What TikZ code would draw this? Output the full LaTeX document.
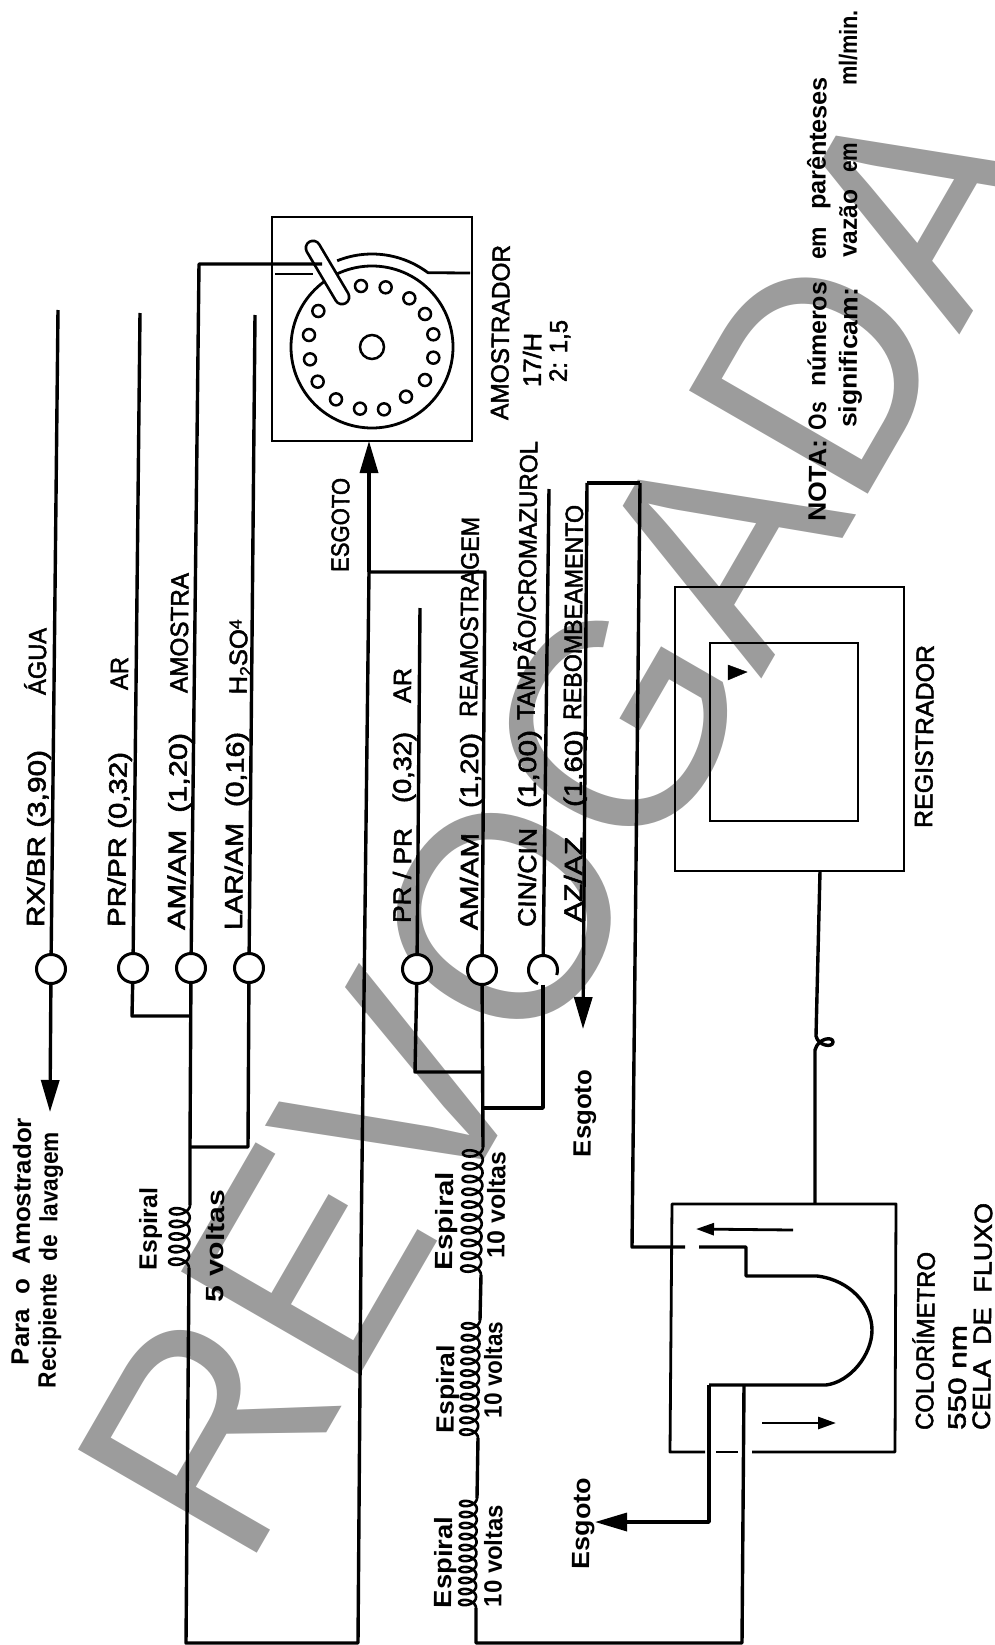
\documentclass[tikz,border=0pt]{standalone}
\usepackage{graphicx}
\usepackage{fontspec}
\setmainfont{Liberation Sans}[RawFeature={embolden=2}]
\newfontfamily\wmfont{Liberation Sans}
\newfontfamily\bfont{Liberation Sans Bold}
\usetikzlibrary{arrows.meta}
\definecolor{wm}{RGB}{156,156,156}
\newsavebox\fitbox
\newcommand{\fitw}[2]{\sbox\fitbox{#2}\pgfmathsetmacro\fitr{#1/\wd\fitbox}\scalebox{\fitr}[1]{\usebox\fitbox}}
% name, centre x, y top, y bottom, text
\newcommand{\lbl}[5]{\pgfmathsetmacro\lx{#2+9}\pgfmathsetmacro\lyc{(#3+#4)/2}\pgfmathsetmacro\lw{#4-#3}\node[lab] (#1) at (\lx,\lyc) {\fitw{\lw}{#5}};}
\newcommand{\blbl}[5]{\pgfmathsetmacro\lx{#2+9}\pgfmathsetmacro\lyc{(#3+#4)/2}\pgfmathsetmacro\lw{#4-#3}\node[lab] (#1) at (\lx,\lyc) {\fitw{\lw}{\bfont #5}};}
% x0, x1 at ends, y0, y1, amplitude, turns
\newcommand{\coil}[6]{\draw[pipe,line width=2.6] plot[smooth,samples=\the\numexpr 20*#6\relax,domain=0:360*#6,variable=\t] ({#1+(#2-#1)*(\t/(360*#6))-#5*(1-cos(\t))/2},{#3+(#4-#3)*(\t/(360*#6))+0.3*#5*sin(\t)});}
\tikzset{
  pipe/.style={line width=3.4,black,line join=round},
  thinp/.style={line width=2.8,black,line join=round},
  pump/.style={circle,draw=black,fill=white,line width=3,minimum size=29,inner sep=0},
  boxn/.style={rectangle,draw=black,line width=2.8,inner sep=0},
  lab/.style={rotate=89.4,anchor=base,inner sep=0,font=\fontsize{25}{25}\selectfont},
  hole/.style={circle,draw=black,line width=2.5,inner sep=0,minimum size=12},
  bigtip/.style={-{Triangle[length=32,width=18]}},
  midtip/.style={-{Triangle[length=18,width=12]}},
}
\begin{document}
\begin{tikzpicture}[x=1pt,y=-1pt]
\useasboundingbox (0,0) rectangle (995,1645);
\clip (0,0) rectangle (995,1645);
% watermark
\node[rotate=60,anchor=base west,inner sep=0,text=wm,font=\fontsize{300}{300}\selectfont] (wmk) at (245,1574) {\fitw{1620}{\wmfont REVOGADA}};
% coordinates
\coordinate (rxtop) at (58,310);
\coordinate (rxtip) at (50,1112);
\coordinate (prtop) at (140,313);
\coordinate (prb) at (132,1016);
\coordinate (prj) at (191,1016);
\coordinate (amcorner) at (199,264);
\coordinate (amarm) at (322,264);
\coordinate (amj) at (190,1147);
\coordinate (c1a) at (190,1205);
\coordinate (c1b) at (189,1268);
\coordinate (bl) at (186,1643);
\coordinate (br) at (358,1643);
\coordinate (r1) at (361,1250);
\coordinate (esgj) at (369,572);
\coordinate (esgtip) at (369,441);
\coordinate (lartop) at (255,315);
\coordinate (larb) at (248,1147);
\coordinate (pr2top) at (420,608);
\coordinate (pr2b) at (415,1072);
\coordinate (pr2j) at (483,1072);
\coordinate (am2top) at (485,572);
\coordinate (c2a) at (483,1147);
\coordinate (c2b) at (481,1275);
\coordinate (c3a) at (480,1320);
\coordinate (c3b) at (478,1438);
\coordinate (c4a) at (477,1498);
\coordinate (c4b) at (476,1608);
\coordinate (b2l) at (476,1643);
\coordinate (b2r) at (742,1643);
\coordinate (tbot) at (744,1385);
\coordinate (cintop) at (549,489);
\coordinate (cinb) at (543,1108);
\coordinate (cinj) at (483,1108);
\coordinate (aztl) at (587,483);
\coordinate (aztr) at (640,483);
\coordinate (azb) at (632,1247);
\coordinate (gapa) at (685,1247);
\coordinate (gapb) at (699,1247);
\coordinate (t1) at (746,1247);
\coordinate (t2) at (746,1276);
\coordinate (t3) at (817,1276);
\coordinate (t4) at (872,1330);
\coordinate (t5) at (826,1385);
\coordinate (t6) at (709,1385);
\coordinate (t7) at (709,1522);
\coordinate (esgtip2) at (595,1522);
\coordinate (aztip) at (583,1029);
% sampler
\node[boxn,minimum width=200,minimum height=224] (amo) at (372,329) {};
\draw[thinp] (372,347) circle [radius=81];
\node[circle,draw=black,line width=2.5,inner sep=0,minimum size=24] (hub) at (372,347) {};
\foreach \i/\hx/\hy in {a/333/258,b/407/262,c/478/295,d/525/342,e/550/403,f/550/473,g/525/540,h/468/590,i/402/628,j/330/626,k/258/598,l/203/545,m/180/478,n/177/405,o/205/333}{
  \node[hole] (h\i) at ({250+\hx/3},{200+\hy/3}) {};
}
\draw[thinp] plot[smooth,samples=30,domain=112:53,variable=\t] ({372+93*cos(\t)},{347-93*sin(\t)}) -- (470,273);
\draw[thinp] (275,274) -- (313,274);
\draw[line width=17,black,line cap=round] (313,248) -- (342,297);
\draw[line width=11.5,white,line cap=round] (313,248) -- (342,297);
% pumps
\node[pump] (p1) at (51,969) {};
\node[pump] (p2) at (133,968) {};
\node[pump] (p3) at (191,968) {};
\node[pump] (p4) at (249,968) {};
\node[pump] (p5) at (417,969) {};
\node[pump] (p6) at (482,970) {};
\node[circle,inner sep=0,minimum size=29] (p7) at (543,970) {};
\draw[line width=3] plot[smooth,samples=40,domain=-20:250,variable=\t] ({543+14.5*cos(\t)},{970-14.5*sin(\t)});
% pipes
\draw[pipe] (rxtop) -- (p1);
\draw[pipe,bigtip] (p1) -- (rxtip);
\draw[pipe] (prtop) -- (p2);
\draw[pipe] (p2) -- (prb) -- (prj);
\draw[pipe] (amarm) -- (amcorner) -- (p3);
\draw[pipe] (p3) -- (amj) -- (c1a);
\coil{190}{189}{1205}{1268}{20}{5}
\draw[pipe] (c1b) -- (bl) -- (br) -- (r1) -- (esgj);
\draw[pipe,bigtip] (esgj) -- (esgtip);
\draw[pipe] (lartop) -- (p4);
\draw[pipe] (p4) -- (larb) -- (amj);
\draw[pipe] (pr2top) -- (p5);
\draw[pipe] (p5) -- (pr2b) -- (pr2j);
\draw[pipe] (esgj) -- (am2top) -- (p6);
\draw[pipe] (p6) -- (c2a);
\coil{483}{481}{1147}{1275}{20}{10}
\draw[pipe] (c2b) -- (c3a);
\coil{480}{478}{1320}{1438}{18}{10}
\draw[pipe] (c3b) -- (c4a);
\coil{477}{476}{1498}{1608}{17}{10}
\draw[pipe] (c4b) -- (b2l) -- (b2r) -- (tbot);
\draw[pipe] (cintop) -- (p7);
\draw[pipe] (p7) -- (cinb) -- (cinj);
\draw[pipe] (aztr) -- (aztl);
\draw[pipe,bigtip] (aztl) -- (aztip);
\draw[pipe] (aztr) -- (azb) -- (gapa);
\draw[pipe] (gapb) -- (t1) -- (t2) -- (t3) .. controls (850,1280) and (872,1305) .. (t4) .. controls (872,1355) and (850,1382) .. (t5) -- (t6);
\draw[pipe,bigtip] (t6) -- (t7) -- (esgtip2);
% colorimeter box
\coordinate (ca) at (705,1452);\coordinate (cb) at (716,1452);\coordinate (cc) at (738,1452);\coordinate (cd) at (752,1452);
\draw[thinp] (ca) -- (670,1452) -- (672,1204) -- (896,1204) -- (895,1452) -- (cd);
\draw[thinp] (cb) -- (cc);
\coordinate (ar1a) at (793,1230);\coordinate (ar1b) at (696,1229);
\coordinate (ar2a) at (762,1423);\coordinate (ar2b) at (836,1423);
\draw[pipe,midtip,line width=2.8] (ar1a) -- (ar1b);
\draw[pipe,midtip,line width=2.8] (ar2a) -- (ar2b);
% recorder
\node[boxn,minimum width=229,minimum height=284] (reg) at (789.5,729) {};
\node[boxn,minimum width=148,minimum height=178] (regin) at (784,732) {};
\draw[fill=black,draw=black] (728,665) -- (747,672) -- (728,680) -- cycle;
\coordinate (sa) at (820,871);
\coordinate (sb) at (816,1036);
\coordinate (sc) at (815,1050);
\coordinate (sd) at (815,1204);
\draw[pipe] (sa) -- (sb) .. controls (818,1046) and (833,1048) .. (833,1042) .. controls (833,1036) and (818,1038) .. (sc) -- (sd);
% labels
\blbl{t01}{21}{1118}{1365}{Para~~o~~Amostrador}
\blbl{t02}{48}{1132}{1388}{Recipiente~~de~~lavagem}
\lbl{t03}{36}{750}{927}{RX/BR (3,90)}
\lbl{t04}{37}{628}{695}{ÁGUA}
\lbl{t05}{117}{752}{927}{PR/PR (0,32)}
\lbl{t06}{119}{657}{690}{AR}
\lbl{t07}{177}{733}{930}{AM/AM~~(1,20)}
\lbl{t08}{179}{573}{693}{AMOSTRA}
\lbl{t09}{234}{732}{930}{LAR/AM~~(0,16)}
\node[lab] (t10) at (247,657) {\fitw{75}{H\raisebox{-5pt}{\fontsize{17}{17}\selectfont 2}SO\raisebox{6pt}{\fontsize{17}{17}\selectfont 4}}};
\blbl{t11}{148}{1188}{1270}{Espiral}
\blbl{t12}{215}{1190}{1302}{5 voltas}
\lbl{t13}{340}{478}{572}{ESGOTO}
\lbl{t14}{402}{828}{923}{PR / PR}
\lbl{t15}{402}{732}{803}{(0,32)}
\lbl{t16}{402}{668}{703}{AR}
\lbl{t17}{469}{833}{930}{AM/AM}
\lbl{t18}{469}{733}{808}{(1,20)}
\lbl{t19}{469}{517}{717}{REAMOSTRAGEM}
\lbl{t20}{527}{828}{927}{CIN/CIN}
\lbl{t21}{527}{730}{808}{(1,00)}
\lbl{t22}{527}{441}{720}{TAMPÃO/CROMAZUROL}
\lbl{t23}{573}{837}{922}{AZ/AZ}
\lbl{t24}{573}{730}{807}{(1,60)}
\lbl{t25}{573}{505}{720}{REBOMBEAMENTO}
\lbl{t26}{924}{645}{828}{REGISTRADOR}
\lbl{t27}{500}{245}{420}{AMOSTRADOR}
\lbl{t28}{532}{333}{387}{17/H}
\lbl{t29}{558}{320}{382}{2: 1,5}
\blbl{t30}{444}{1172}{1270}{Espiral}
\blbl{t31}{496}{1152}{1258}{10 voltas}
\blbl{t32}{445}{1345}{1433}{Espiral}
\blbl{t33}{493}{1322}{1418}{10 voltas}
\blbl{t34}{443}{1517}{1608}{Espiral}
\blbl{t35}{493}{1505}{1607}{10 voltas}
\blbl{t36}{582}{1070}{1157}{Esgoto}
\blbl{t37}{581}{1478}{1569}{Esgoto}
\lbl{t38}{925}{1252}{1430}{COLORÍMETRO}
\lbl{t39}{957}{1325}{1430}{550 nm}
\lbl{t40}{982}{1203}{1430}{CELA~~DE~~FLUXO}
\blbl{t41}{817}{440}{522}{NOTA:}
\blbl{t42}{817}{402}{430}{Os}
\blbl{t43}{817}{282}{387}{números}
\blbl{t44}{817}{227}{260}{em}
\blbl{t45}{817}{77}{210}{parênteses}
\blbl{t46}{848}{288}{428}{significam:}
\blbl{t47}{848}{190}{258}{vazão}
\blbl{t48}{848}{143}{173}{em}
\blbl{t49}{848}{10}{86}{ml/min.}
\end{tikzpicture}
\end{document}
